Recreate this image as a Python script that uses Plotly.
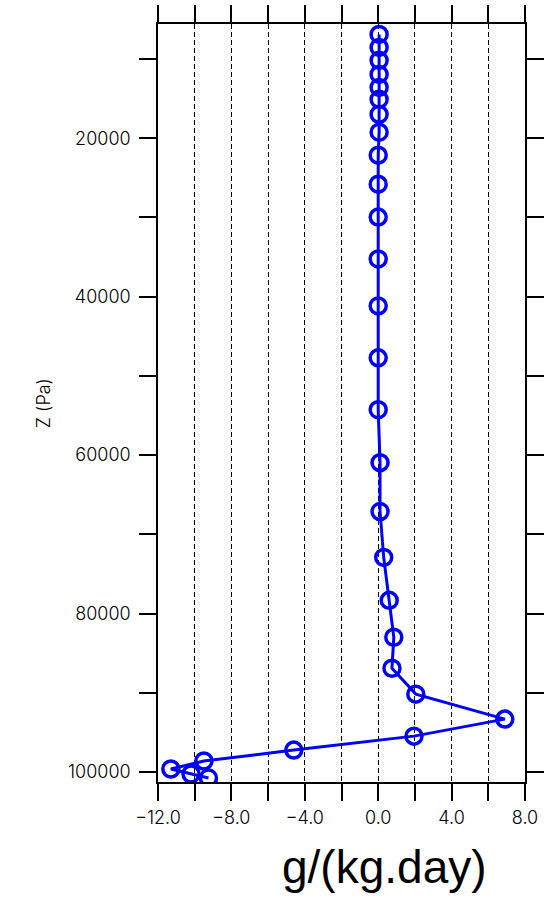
import plotly.graph_objects as go

# Vertical profile: pressure level (Pa) and tendency (g/(kg.day))
pressure_pa = [6900, 8540, 10170, 11940, 13580, 15090, 16980, 19240, 22140,
               25800, 29950, 35240, 41170, 47720, 54270, 60950, 67120, 72910,
               78330, 82990, 86900, 90170, 93320, 95470, 97230, 98610, 99620,
               100250, 100760]
tendency = [0.05, 0.05, 0.05, 0.05, 0.05, 0.05, 0.05, 0.05, 0.0,
            0.0, 0.0, 0.0, 0.0, 0.0, 0.0, 0.1, 0.1, 0.3,
            0.6, 0.85, 0.75, 2.05, 6.9, 1.95, -4.6, -9.5, -11.3,
            -10.2, -9.25]

x_tick_vals = [-12, -10, -8, -6, -4, -2, 0, 2, 4, 6, 8]
x_tick_text = ["\u221212.0", "", "\u22128.0", "", "\u22124.0", "", "0.0", "", "4.0", "", "8.0"]
y_tick_vals = [10000, 20000, 30000, 40000, 50000, 60000, 70000, 80000, 90000, 100000]
y_tick_text = ["", "20000", "", "40000", "", "60000", "", "80000", "", "100000"]

x_range = [-12, 8]
y_range = [101260, 5580]

BLUE = "#0000FF"
tick_font = dict(family="Inter", size=18, color="black", weight=300)

fig = go.Figure()
fig.add_trace(go.Scatter(
    x=tendency, y=pressure_pa,
    mode="lines+markers",
    line=dict(color=BLUE, width=3),
    marker=dict(symbol="circle-open", size=16, color=BLUE,
                line=dict(width=3.5, color=BLUE)),
    showlegend=False,
))

fig.update_layout(
    width=555, height=898,
    margin=dict(l=158, r=30, t=24, b=116, autoexpand=False),
    paper_bgcolor="white", plot_bgcolor="white",
    xaxis=dict(
        range=x_range, autorange=False,
        tickmode="array", tickvals=x_tick_vals, ticktext=x_tick_text,
        ticks="outside", ticklen=17, tickwidth=1.5, tickcolor="black",
        showline=True, linecolor="black", linewidth=1.5, mirror="ticks",
        showgrid=True, gridcolor="black", gridwidth=1, griddash="5px,3px",
        zeroline=False, tickfont=tick_font, ticklabelstandoff=2,
    ),
    yaxis=dict(
        range=y_range, autorange=False,
        tickmode="array", tickvals=y_tick_vals, ticktext=y_tick_text,
        ticks="outside", ticklen=17, tickwidth=1.5, tickcolor="black",
        showline=True, linecolor="black", linewidth=1.5, mirror="ticks",
        showgrid=False, zeroline=False, tickfont=tick_font,
        ticklabelstandoff=5,
    ),
    annotations=[
        dict(text="Z (Pa)", xref="paper", yref="paper",
             x=-0.313, y=0.5, xanchor="center", yanchor="middle",
             textangle=-90, showarrow=False,
             font=dict(family="Inter", size=18, color="black", weight=300)),
        dict(text="g/(kg.day)", xref="paper", yref="paper",
             x=0.6185, y=-0.112, xanchor="center", yanchor="middle",
             showarrow=False,
             font=dict(family="Liberation Sans", size=46, color="black")),
    ],
)

fig.write_html("out.html")
